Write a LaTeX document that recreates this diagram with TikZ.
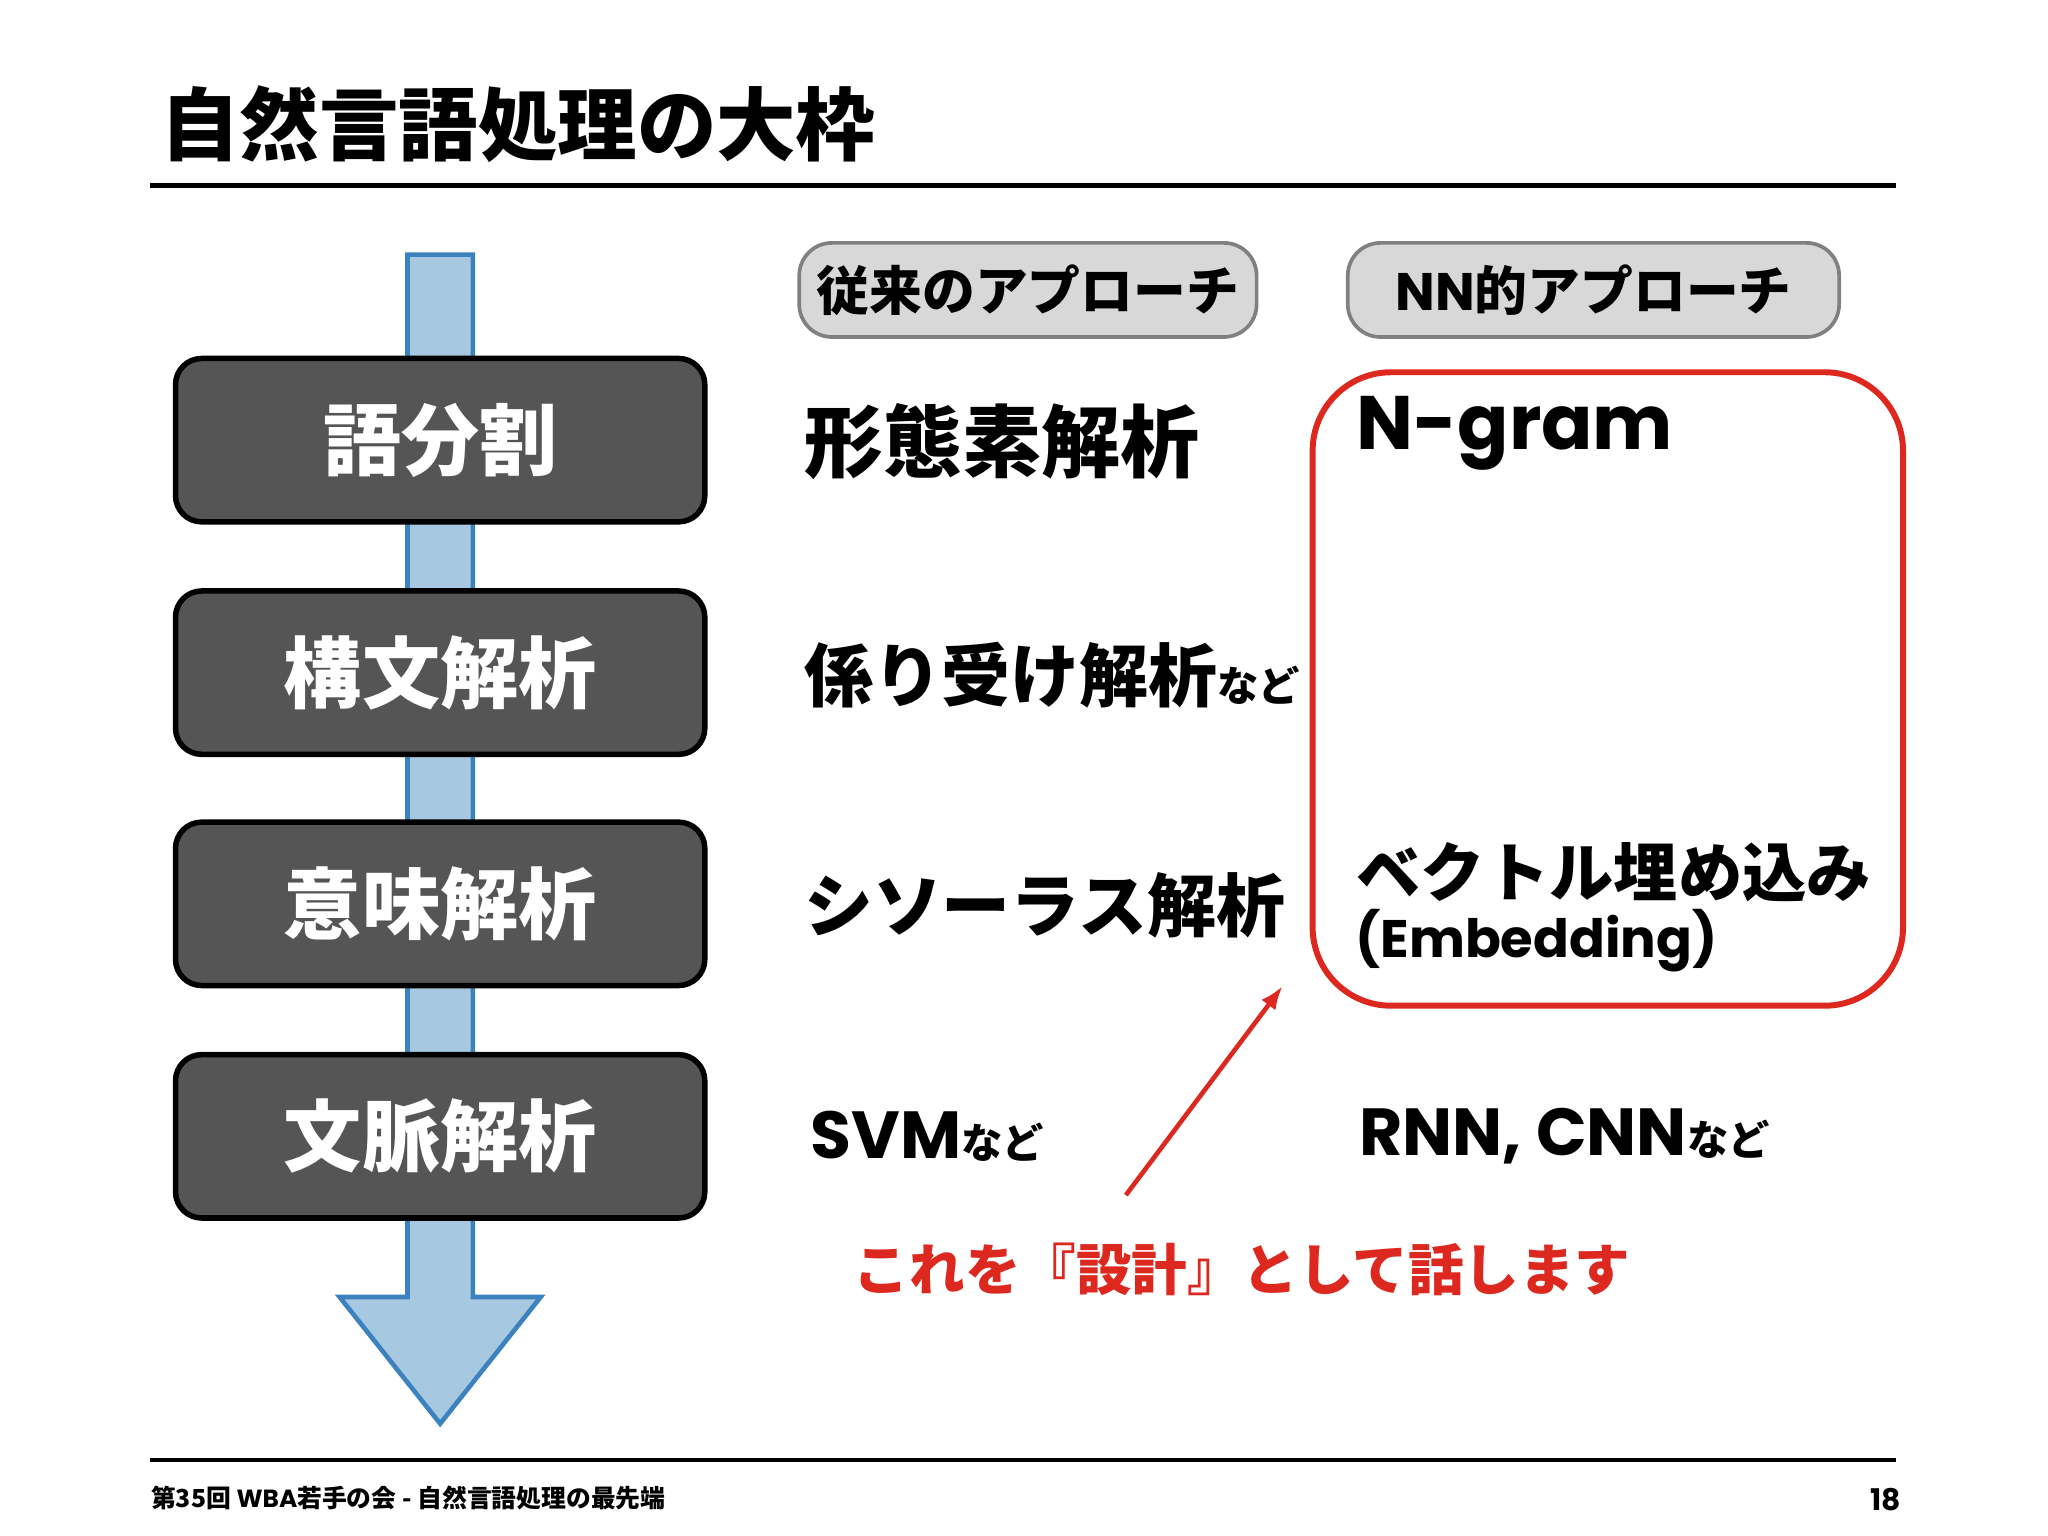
\documentclass[tikz,border=0pt]{standalone}
\usepackage{fontspec}
\usetikzlibrary{arrows.meta}
\newfontfamily\jp{Noto Sans CJK JP}
\newfontfamily\lat{Poppins}
\definecolor{arrfill}{RGB}{166,200,224}
\definecolor{arrline}{RGB}{60,130,190}
\definecolor{boxfill}{RGB}{85,85,85}
\definecolor{pill}{RGB}{216,216,216}
\definecolor{redc}{RGB}{220,40,30}
\tikzset{
 px/.style={x=0.01cm,y=-0.01cm},
 stage/.style={draw=black,line width=1.2pt,fill=boxfill,rounded corners=0.2cm,minimum width=4.05cm,minimum height=1.25cm,text=white,font=\jp\bfseries\fontsize{17}{17}\selectfont},
 pillbox/.style={draw=gray,line width=0.8pt,fill=pill,rounded corners=0.25cm,minimum height=0.72cm,font=\jp\bfseries\fontsize{11.5}{11.5}\selectfont},
 midtxt/.style={anchor=west,inner sep=0,font=\jp\bfseries\fontsize{17.2}{17.2}\selectfont}
}
\begin{document}
\begin{tikzpicture}[px]
\useasboundingbox[fill=white] (0,0) rectangle (1568,1176);
\node[anchor=west,inner sep=0,font=\jp\bfseries\fontsize{17.3}{17.3}\selectfont] (title) at (122,95) {自然言語処理の大枠};
\draw[line width=1pt] (115,142) coordinate (r1) -- (1452,142) coordinate (r2);
% big arrow
\draw[arrline,fill=arrfill,line width=1pt] (312,195) -- (362,195) -- (362,993) -- (414,993) -- (337,1090) -- (260,993) -- (312,993) -- cycle;
\node[stage] (s1) at (337,337) {語分割};
\node[stage] (s2) at (337,515) {構文解析};
\node[stage] (s3) at (337,692) {意味解析};
\node[stage] (s4) at (337,870) {文脈解析};
\node[pillbox,minimum width=3.5cm] (p1) at (787,222) {従来のアプローチ};
\node[pillbox,minimum width=3.76cm] (p2) at (1220,222) {{\lat\bfseries NN}的アプローチ};
\node[midtxt] (m1) at (615,338) {形態素解析};
\node[midtxt,font=\jp\bfseries\fontsize{15}{15}\selectfont] (m2) at (615,517) {係り受け解析{\fontsize{9}{9}\selectfont など}};
\node[midtxt,font=\jp\bfseries\fontsize{15}{15}\selectfont] (m3) at (615,693) {シソーラス解析};
\node[midtxt] (m4) at (620,870) {{\lat\bfseries\fontsize{14.5}{14.5}\selectfont SVM}{\fontsize{9}{9}\selectfont など}};
\draw[redc,line width=1.3pt,rounded corners=0.6cm] (1005,285) rectangle (1457,770);
\node[anchor=west,inner sep=0,font=\lat\bfseries\fontsize{16.5}{16.5}\selectfont] (ng) at (1038,332) {N-gram};
\node[anchor=west,inner sep=0,font=\jp\bfseries\fontsize{14}{14}\selectfont] (vec) at (1038,668) {ベクトル埋め込み};
\node[anchor=west,inner sep=0,font=\lat\bfseries\fontsize{11.5}{11.5}\selectfont] (emb) at (1037,720) {(Embedding)};
\node[anchor=west,inner sep=0] (rnn) at (1040,870) {{\lat\bfseries\fontsize{14.5}{14.5}\selectfont RNN, CNN}{\jp\bfseries\fontsize{9}{9}\selectfont など}};
\coordinate (a0) at (862,915);
\coordinate (a1) at (982,755);
\draw[redc,line width=1pt,-{Latex[length=0.18cm]}] (a0) -- (a1);
\node[text=redc,font=\jp\bfseries\fontsize{12.1}{12.1}\selectfont,inner sep=0] (msg) at (951,972) {これを『設計』として話します};
\draw[line width=0.8pt] (115,1118) -- (1452,1118);
\node[anchor=west,inner sep=0,font=\jp\bfseries\fontsize{5.4}{5.4}\selectfont] (foot) at (115,1147) {第35回 {\lat\bfseries WBA}若手の会 - 自然言語処理の最先端};
\node[anchor=east,inner sep=0,font=\lat\bfseries\fontsize{6.5}{6.5}\selectfont] (pg) at (1456,1148) {18};
\end{tikzpicture}
\end{document}
